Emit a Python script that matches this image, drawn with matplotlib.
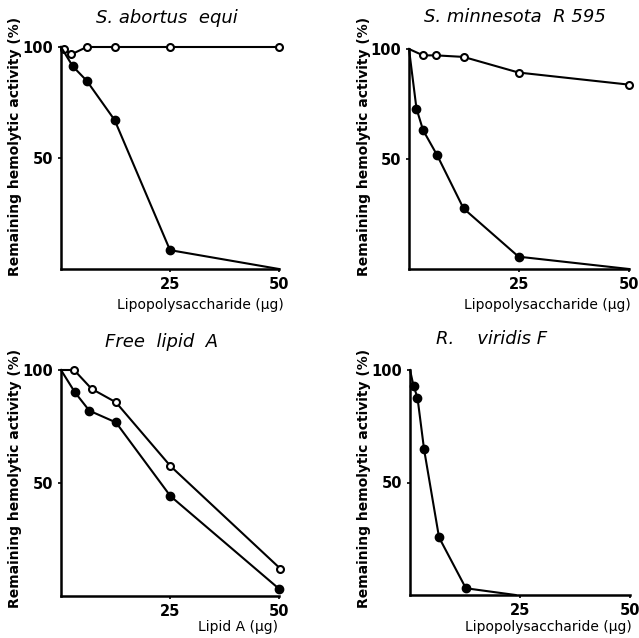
import matplotlib
matplotlib.use("Agg")
import matplotlib.pyplot as plt

# ---- data (µg, % remaining hemolytic activity); first point (0,100) drawn without marker
p1_open_x = [0, 0.7, 2.4, 5.9, 12.3, 25, 50]
p1_open_y = [100, 99, 96.7, 100, 100, 100, 100]
p1_fill_x = [0, 2.7, 5.9, 12.3, 25, 50]
p1_fill_y = [100, 91.3, 84.8, 67.1, 8.5, 0]

p2_open_x = [0, 3.2, 6.2, 12.4, 24.9, 50]
p2_open_y = [100, 97.1, 97.1, 96.4, 89.3, 83.8]
p2_fill_x = [0, 1.7, 3.2, 6.4, 12.4, 24.9, 50]
p2_fill_y = [100, 72.9, 63.1, 51.7, 27.5, 5.6, 0]

p3_open_x = [0, 3.0, 7.0, 12.6, 25.1, 50.3]
p3_open_y = [100, 100, 91.7, 85.7, 57.5, 12.1]
p3_fill_x = [0, 3.2, 6.5, 12.6, 25.1, 50]
p3_fill_y = [100, 90.1, 82.0, 76.8, 44.2, 3.2]

p4_fill_x = [0, 0.8, 1.7, 3.2, 6.6, 12.7, 24]
p4_fill_y = [100, 93.0, 87.7, 64.7, 25.6, 3.0, 0]

titles = ["S. abortus  equi", "S. minnesota  R 595", "Free  lipid  A", "R.    viridis F"]
xlabels = ["Lipopolysaccharide (µg)", "Lipopolysaccharide (µg)", "Lipid A (µg)", "Lipopolysaccharide (µg)"]
ylabel = "Remaining hemolytic activity (%)"
xticks = [25, 50]
yticks = [50, 100]

# ---- layout
fig = plt.figure(figsize=(6.39, 6.38), dpi=100)
W, H = 639, 638

def axes_px(x0, x1, ytop, ybot):
    return fig.add_axes([x0 / W, 1 - ybot / H, (x1 - x0) / W, (ybot - ytop) / H])

axs = [axes_px(61, 279, 47, 269), axes_px(409, 629, 49, 269),
       axes_px(61, 279, 370, 596), axes_px(410, 630, 370, 595)]

# title centers / label centers in pixels
title_px = [(167, 18), (515, 17), (162, 342), (492, 339)]
xlabel_px = [(200, 305), (547, 305), (238, 627), (548, 627)]
ylabel_px = [(15, 146), (364, 146), (15, 478), (364, 478)]

series = [
    [(p1_open_x, p1_open_y, "open"), (p1_fill_x, p1_fill_y, "fill")],
    [(p2_open_x, p2_open_y, "open"), (p2_fill_x, p2_fill_y, "fill")],
    [(p3_open_x, p3_open_y, "open"), (p3_fill_x, p3_fill_y, "fill")],
    [(p4_fill_x, p4_fill_y, "fill")],
]

ends = [
    [None, 5], [None, 6], [None, None], [6],
]

for i, ax in enumerate(axs):
    for j, (xs, ys, kind) in enumerate(series[i]):
        end = ends[i][j]
        me = slice(1, end) if end is not None else slice(1, None)
        if kind == "open":
            ax.plot(xs, ys, color="black", lw=1.5, marker="o", markersize=5,
                    markerfacecolor="white", markeredgecolor="black", markeredgewidth=1.5,
                    markevery=me, clip_on=False, zorder=3)
        else:
            ax.plot(xs, ys, color="black", lw=1.5, marker="o", markersize=6,
                    markerfacecolor="black", markeredgecolor="black",
                    markevery=me, clip_on=False, zorder=4)
    ax.set_xlim(0, 50)
    ax.set_ylim(0, 100)
    for s in ["top", "right"]:
        ax.spines[s].set_visible(False)
    for s in ["left", "bottom"]:
        ax.spines[s].set_linewidth(1.8)
    ax.set_xticks(xticks)
    ax.set_yticks(yticks)
    ax.set_xticklabels([str(t) for t in xticks])
    ax.set_yticklabels([str(t) for t in yticks])
    ax.tick_params(direction="out", length=2.5, width=1.2, labelsize=10.5, pad=3)
    for lab in ax.get_xticklabels() + ax.get_yticklabels():
        lab.set_fontweight("bold")

    bb = ax.get_position()
    x0, x1 = bb.x0 * W, bb.x1 * W
    ytop, ybot = (1 - bb.y1) * H, (1 - bb.y0) * H
    tx, ty = title_px[i]
    ax.text((tx - x0) / (x1 - x0), (ybot - ty) / (ybot - ytop), titles[i],
            transform=ax.transAxes, ha="center", va="center",
            fontsize=13, style="italic")
    lx, ly = xlabel_px[i]
    ax.text((lx - x0) / (x1 - x0), (ybot - ly) / (ybot - ytop), xlabels[i],
            transform=ax.transAxes, ha="center", va="center", fontsize=10)
    yx, yy = ylabel_px[i]
    ax.text((yx - x0) / (x1 - x0), (ybot - yy) / (ybot - ytop), ylabel,
            transform=ax.transAxes, ha="center", va="center", rotation=90,
            fontsize=10, fontweight="bold")

fig.savefig("out.png", dpi=100)
